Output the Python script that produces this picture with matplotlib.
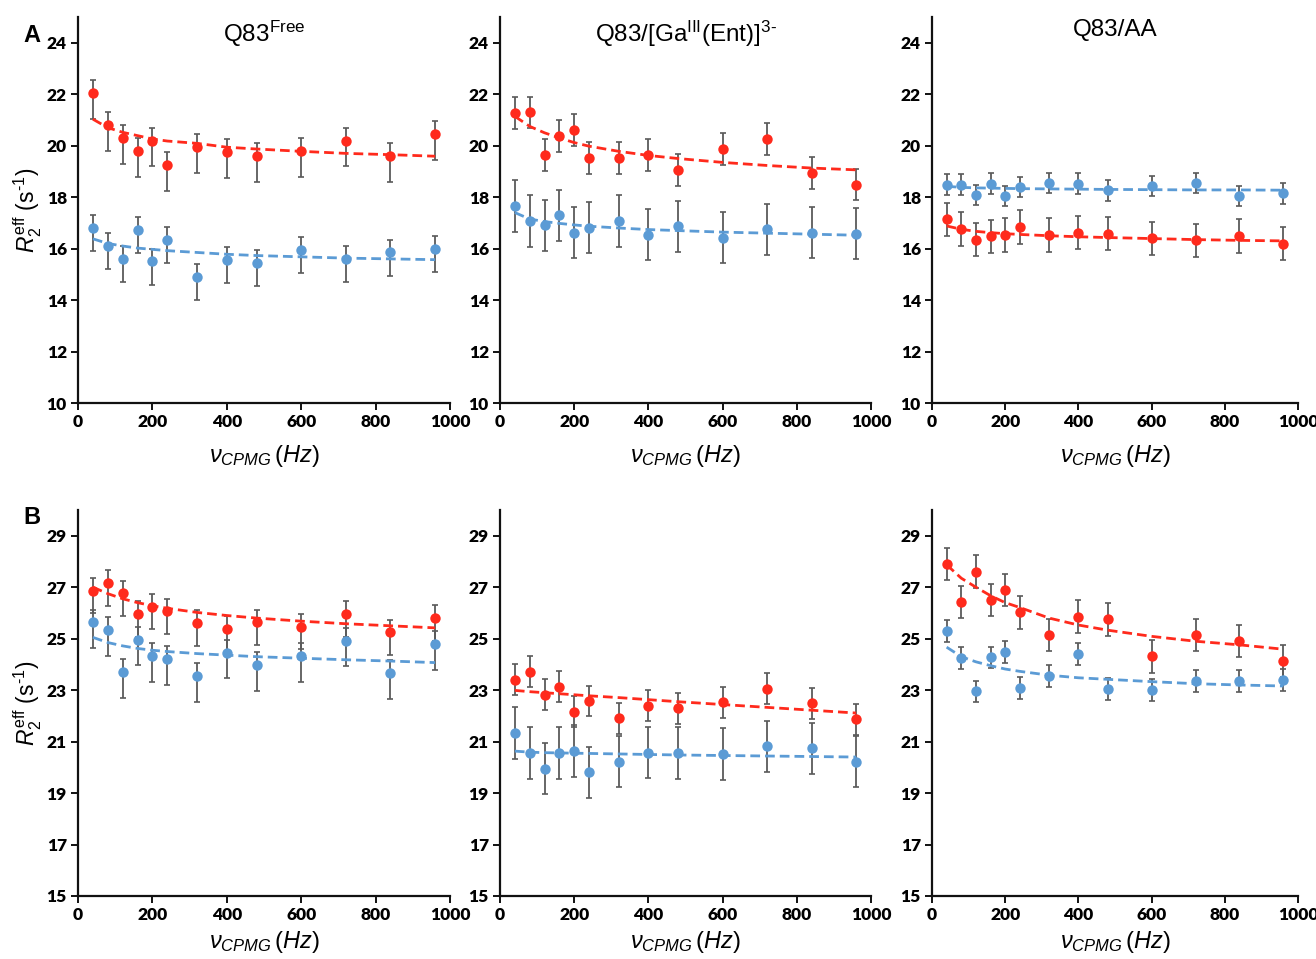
import matplotlib
matplotlib.use("Agg")
import matplotlib.pyplot as plt
import numpy as np

# ---------------- data ----------------
x_cpmg = [40, 80, 120, 160, 200, 240, 320, 400, 480, 600, 720, 840, 960]

panel_titles = [r"Q83$^{\mathrm{Free}}$",
                r"Q83/[Ga$^{\mathrm{III}}$(Ent)]$^{\mathrm{3\text{-}}}$",
                "Q83/AA"]

# Row A
A1_red = [22.05, 20.8, 20.3, 19.8, 20.2, 19.25, 19.95, 19.75, 19.6, 19.8, 20.2, 19.6, 20.45]
A1_blue = [16.8, 16.12, 15.6, 16.72, 15.5, 16.35, 14.9, 15.55, 15.45, 15.95, 15.6, 15.85, 16.0]
A1_red_fit = [21.03, 20.7, 20.52, 20.39, 20.26, 20.18, 20.09, 19.94, 19.87, 19.78, 19.7, 19.65, 19.59]
A1_blue_fit = [16.38, 16.2, 16.1, 16.02, 15.97, 15.92, 15.85, 15.78, 15.73, 15.68, 15.63, 15.6, 15.57]

A2_red = [21.26, 21.29, 19.64, 20.39, 20.6, 19.53, 19.53, 19.64, 19.07, 19.86, 20.26, 18.93, 18.49]
A2_blue = [17.65, 17.07, 16.9, 17.29, 16.62, 16.81, 17.07, 16.54, 16.86, 16.43, 16.75, 16.62, 16.58]
A2_red_fit = [21.14, 20.75, 20.5, 20.3, 20.12, 19.98, 19.78, 19.62, 19.5, 19.35, 19.23, 19.13, 19.06]
A2_blue_fit = [17.4, 17.15, 17.05, 16.98, 16.92, 16.87, 16.8, 16.74, 16.7, 16.64, 16.6, 16.56, 16.52]

A3_red = [17.14, 16.77, 16.35, 16.48, 16.52, 16.84, 16.52, 16.62, 16.58, 16.4, 16.32, 16.49, 16.19]
A3_blue = [18.48, 18.49, 18.09, 18.52, 18.05, 18.39, 18.55, 18.52, 18.26, 18.44, 18.55, 18.05, 18.15]
A3_red_fit = [16.88, 16.75, 16.67, 16.62, 16.58, 16.55, 16.5, 16.46, 16.43, 16.39, 16.35, 16.32, 16.3]
A3_blue_fit = [18.42, 18.38, 18.36, 18.35, 18.34, 18.33, 18.32, 18.31, 18.3, 18.29, 18.28, 18.28, 18.27]

# Row B
B1_red = [26.86, 27.15, 26.76, 25.95, 26.25, 26.06, 25.6, 25.37, 25.63, 25.46, 25.95, 25.24, 25.8]
B1_blue = [25.63, 25.33, 23.71, 24.96, 24.33, 24.2, 23.54, 24.46, 23.98, 24.33, 24.92, 23.67, 24.79]
B1_red_fit = [27.0, 26.75, 26.55, 26.4, 26.28, 26.18, 26.02, 25.9, 25.8, 25.68, 25.58, 25.5, 25.42]
B1_blue_fit = [25.05, 24.85, 24.72, 24.62, 24.55, 24.5, 24.42, 24.36, 24.3, 24.24, 24.18, 24.13, 24.07]

B2_red = [23.4, 23.71, 22.82, 23.14, 22.16, 22.58, 21.91, 22.4, 22.29, 22.52, 23.06, 22.49, 21.87]
B2_blue = [21.33, 20.55, 19.95, 20.55, 20.63, 19.8, 20.22, 20.57, 20.55, 20.51, 20.81, 20.74, 20.22]
B2_red_fit = [22.99, 22.94, 22.9, 22.86, 22.82, 22.78, 22.71, 22.63, 22.55, 22.44, 22.33, 22.22, 22.11]
B2_blue_fit = [20.63, 20.59, 20.57, 20.56, 20.55, 20.54, 20.52, 20.5, 20.48, 20.46, 20.44, 20.42, 20.4]

B3_red = [27.9, 26.43, 27.61, 26.51, 26.9, 26.02, 25.15, 25.86, 25.75, 24.31, 25.15, 24.92, 24.13]
B3_blue = [25.29, 24.24, 22.95, 24.27, 24.48, 23.09, 23.56, 24.4, 23.04, 23.0, 23.35, 23.35, 23.39]
B3_red_fit = [27.87, 27.35, 27.0, 26.67, 26.4, 26.21, 25.8, 25.53, 25.33, 25.09, 24.9, 24.76, 24.59]
B3_blue_fit = [24.67, 24.3, 24.1, 23.95, 23.82, 23.73, 23.58, 23.48, 23.42, 23.33, 23.25, 23.2, 23.16]

# error bar sizes (lower, upper) per series
A1_red_err = (1.0, 0.5);  A1_blue_err = (0.9, 0.5)
A2_red_err = (0.62, 0.62); A2_blue_err = (1.0, 1.0)
A3_red_err = (0.65, 0.65); A3_blue_err = (0.4, 0.4)
B1_red_err = (0.88, 0.5);  B1_blue_err = (1.0, 0.5)
B2_red_err = (0.6, 0.6);   B2_blue_err = (1.0, 1.0)
B3_red_err = (0.63, 0.63); B3_blue_err = (0.42, 0.42)

rowA_ylim = (10, 25); rowA_ticks = [10, 12, 14, 16, 18, 20, 22, 24]
rowB_ylim = (15, 30); rowB_ticks = [15, 17, 19, 21, 23, 25, 27, 29]
x_ticks = [0, 200, 400, 600, 800, 1000]

panels = [
    [(A1_red, A1_red_fit, A1_red_err, A1_blue, A1_blue_fit, A1_blue_err),
     (A2_red, A2_red_fit, A2_red_err, A2_blue, A2_blue_fit, A2_blue_err),
     (A3_red, A3_red_fit, A3_red_err, A3_blue, A3_blue_fit, A3_blue_err)],
    [(B1_red, B1_red_fit, B1_red_err, B1_blue, B1_blue_fit, B1_blue_err),
     (B2_red, B2_red_fit, B2_red_err, B2_blue, B2_blue_fit, B2_blue_err),
     (B3_red, B3_red_fit, B3_red_err, B3_blue, B3_blue_fit, B3_blue_err)],
]

# ---------------- style ----------------
plt.rcParams['font.family'] = ['Liberation Sans', 'DejaVu Sans']
plt.rcParams['mathtext.fontset'] = 'custom'
plt.rcParams['mathtext.rm'] = 'Liberation Sans'
plt.rcParams['mathtext.it'] = 'Liberation Sans:italic'
plt.rcParams['mathtext.bf'] = 'Liberation Sans:bold'

RED = '#FF2A1C'
BLUE = '#5B9BD5'
ERRC = '#5a5a5a'

W, H = 1316, 959
fig = plt.figure(figsize=(W / 100, H / 100), dpi=100)

col_px = [(78, 450), (500, 871), (932, 1298)]
row_px = [(17, 403), (510, 896)]

for r in range(2):
    for c in range(3):
        x0, x1 = col_px[c]
        yt, yb = row_px[r]
        ax = fig.add_axes([x0 / W, 1 - yb / H, (x1 - x0) / W, (yb - yt) / H])
        red, red_fit, red_err, blue, blue_fit, blue_err = panels[r][c]
        for vals, fit, err, col in [(blue, blue_fit, blue_err, BLUE), (red, red_fit, red_err, RED)]:
            v = np.array(vals)
            yerr = np.vstack([np.full(len(v), err[0]), np.full(len(v), err[1])])
            ax.errorbar(x_cpmg, v, yerr=yerr, fmt='none', ecolor=ERRC, elinewidth=1.3,
                        capsize=2, capthick=1.2, zorder=2)
            ax.plot(x_cpmg, fit, linestyle=(0, (3.5, 1.8)), color=col, lw=2.0, zorder=3)
            ax.plot(x_cpmg, v, 'o', color=col, markersize=7.5, markeredgewidth=0, zorder=4)
        ax.set_xlim(0, 1000)
        if r == 0:
            ax.set_ylim(*rowA_ylim); ax.set_yticks(rowA_ticks)
        else:
            ax.set_ylim(*rowB_ylim); ax.set_yticks(rowB_ticks)
        ax.set_xticks(x_ticks)
        for s in ['top', 'right']:
            ax.spines[s].set_visible(False)
        for s in ['left', 'bottom']:
            ax.spines[s].set_linewidth(1.6)
            ax.spines[s].set_color('#111111')
        ax.tick_params(axis='both', direction='out', length=5, width=1.4, color='#111111',
                       labelsize=12.5, pad=3)
        for lab in ax.get_xticklabels() + ax.get_yticklabels():
            lab.set_fontfamily(['Lato', 'DejaVu Sans'])
            lab.set_fontweight('heavy')
        ax.set_xlabel(r'$\nu_{CPMG}\,(Hz)$', fontsize=17, labelpad=(9 if r == 0 else 4))
        if c == 0:
            ax.set_ylabel(r'$R_2^{\mathrm{eff}}\ \mathrm{(s^{\text{-}1})}$', fontsize=16.5, labelpad=2)
        if r == 0:
            ax.text(0.5, 0.995, panel_titles[c], transform=ax.transAxes, ha='center',
                    va='top', fontsize=17.5)

fig.text(32 / W, 1 - 35 / H, 'A', fontsize=17, fontweight='bold', ha='center', va='center')
fig.text(32 / W, 1 - 517 / H, 'B', fontsize=17, fontweight='bold', ha='center', va='center')

fig.savefig('out.png', dpi=100)
